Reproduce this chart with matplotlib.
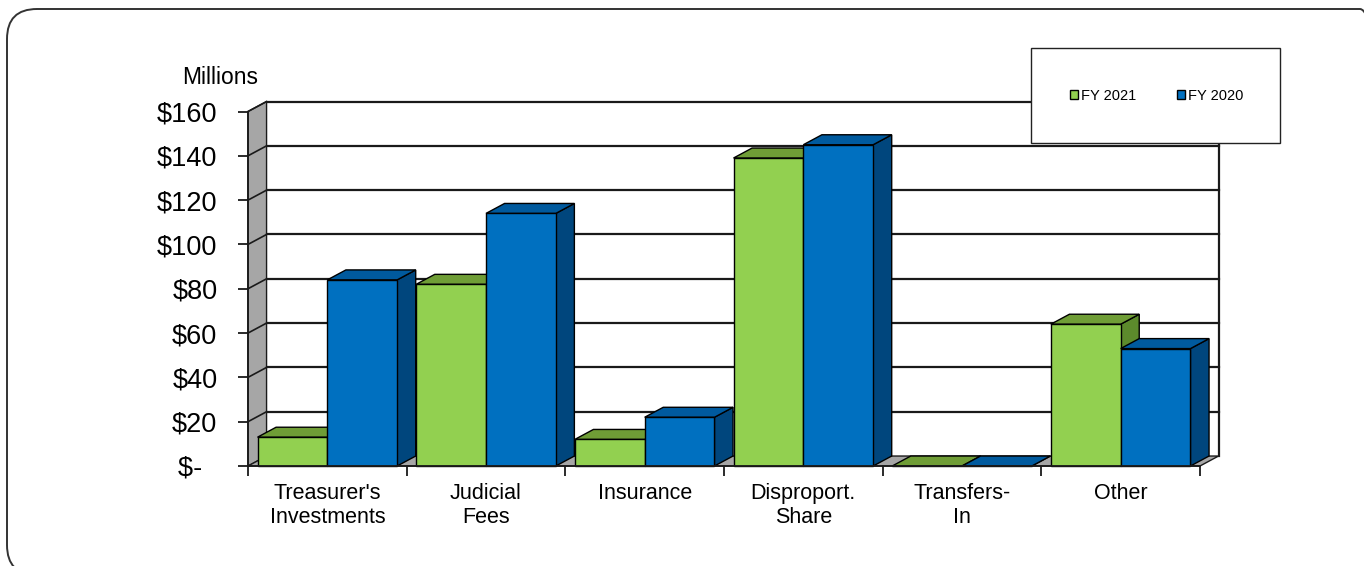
import matplotlib
matplotlib.use("Agg")
import matplotlib.pyplot as plt
from matplotlib.patches import Polygon, Rectangle, FancyBboxPatch, Patch

plt.rcParams['font.family'] = ['Liberation Sans', 'DejaVu Sans']

# Revenue sources, in millions of dollars
categories = ["Treasurer's\nInvestments", "Judicial\nFees", "Insurance",
              "Disproport.\nShare", "Transfers-\nIn", "Other"]
fy2021 = [13, 82, 12, 139, 0, 64]
fy2020 = [84, 114, 22, 145, 0, 53]
series_names = ["FY 2021", "FY 2020"]
ytick_vals = [0, 20, 40, 60, 80, 100, 120, 140, 160]
ytick_labels = ["$-  ", "$20", "$40", "$60", "$80", "$100", "$120", "$140", "$160"]

# front, top, side shades for each series
green = ('#92D050', '#6F9D36', '#5C8A2C')
blue = ('#0070C0', '#005A9E', '#00467D')

YMAX = 160
GAP = 0.06      # space before first bar in a category
W = 0.44        # bar width (category units)
DX = 0.117      # 3-D depth offset, x
DY = 4.5        # 3-D depth offset, y
LINE = '#1a1a1a'

fig = plt.figure(figsize=(13.64, 5.66), dpi=100)
ax = fig.add_axes([248 / 1364, 100 / 566, 952 / 1364, 354.5 / 566])
ax.set_xlim(0, len(categories))
ax.set_ylim(0, YMAX)
n = len(categories)

# side wall and floor
ax.add_patch(Polygon([(0, 0), (DX, DY), (DX, YMAX + DY), (0, YMAX)],
                     closed=True, fc='#A6A6A6', ec=LINE, lw=1.0, clip_on=False, zorder=1))
ax.add_patch(Polygon([(0, 0), (n, 0), (n + DX, DY), (DX, DY)],
                     closed=True, fc='#A6A6A6', ec=LINE, lw=1.0, clip_on=False, zorder=1))

# gridlines on back wall and side wall
for v in ytick_vals[1:]:
    ax.plot([DX, n + DX], [v + DY, v + DY], color=LINE, lw=1.6, clip_on=False, zorder=1.5)
    ax.plot([0, DX], [v, v + DY], color=LINE, lw=1.2, clip_on=False, zorder=1.5)
ax.plot([n + DX, n + DX], [DY, YMAX + DY], color=LINE, lw=1.6, clip_on=False, zorder=1.5)


def draw_bar(x0, h, shades, z):
    front, top, side = shades
    x1 = x0 + W
    ax.add_patch(Polygon([(x1, 0), (x1 + DX, DY), (x1 + DX, h + DY), (x1, h)],
                         closed=True, fc=side, ec='black', lw=1.0, clip_on=False, zorder=z))
    ax.add_patch(Polygon([(x0, h), (x1, h), (x1 + DX, h + DY), (x0 + DX, h + DY)],
                         closed=True, fc=top, ec='black', lw=1.0, clip_on=False, zorder=z))
    ax.add_patch(Rectangle((x0, 0), W, h, fc=front, ec='black', lw=1.0, clip_on=False, zorder=z))


for i in range(n):
    draw_bar(i + GAP, fy2021[i], green, 2 + i * 0.1)
    draw_bar(i + GAP + W, fy2020[i], blue, 2.05 + i * 0.1)

# axes
for side in ['top', 'right']:
    ax.spines[side].set_visible(False)
for side in ['left', 'bottom']:
    ax.spines[side].set_color(LINE)
    ax.spines[side].set_linewidth(1.3)
    ax.spines[side].set_zorder(3)

ax.set_yticks(ytick_vals)
ax.set_yticklabels(ytick_labels, fontsize=19.5)
ax.tick_params(axis='y', length=7, width=1.3, color=LINE, pad=15)

ax.set_xticks([i + 0.5 for i in range(n)])
ax.set_xticklabels(categories, fontsize=15.5, linespacing=1.22)
ax.set_xticks(range(n + 1), minor=True)
ax.tick_params(axis='x', which='major', length=0, pad=12)
ax.tick_params(axis='x', which='minor', length=7, width=1.3, color=LINE)

fig.text(220 / 1364, 1 - 78 / 566, "Millions", fontsize=16.5, ha='center', va='center')

# legend box
fig.patches.append(Rectangle((1031 / 1364, 1 - 143 / 566), 249 / 1364, 95 / 566,
                             transform=fig.transFigure, fc='white', ec='#222222',
                             lw=1.0, zorder=5))
handles = [Patch(fc=green[0], ec='black', lw=1.0), Patch(fc=blue[0], ec='black', lw=1.0)]
leg = fig.legend(handles, series_names, loc='center', ncol=2, frameon=False,
                 bbox_to_anchor=(1157 / 1364, 1 - 96 / 566), fontsize=10.5,
                 handlelength=0.55, handleheight=0.55, handletextpad=0.2,
                 columnspacing=2.8)
leg.set_zorder(6)

# rounded outer border, its right and bottom edges run past the canvas
fig.patches.append(FancyBboxPatch((0.07, -0.09), 13.83, 5.66,
                                  boxstyle="round,pad=0,rounding_size=0.3",
                                  transform=fig.dpi_scale_trans, fc='none',
                                  ec='#333333', lw=1.4, zorder=7))

fig.savefig("out.png", dpi=100)
